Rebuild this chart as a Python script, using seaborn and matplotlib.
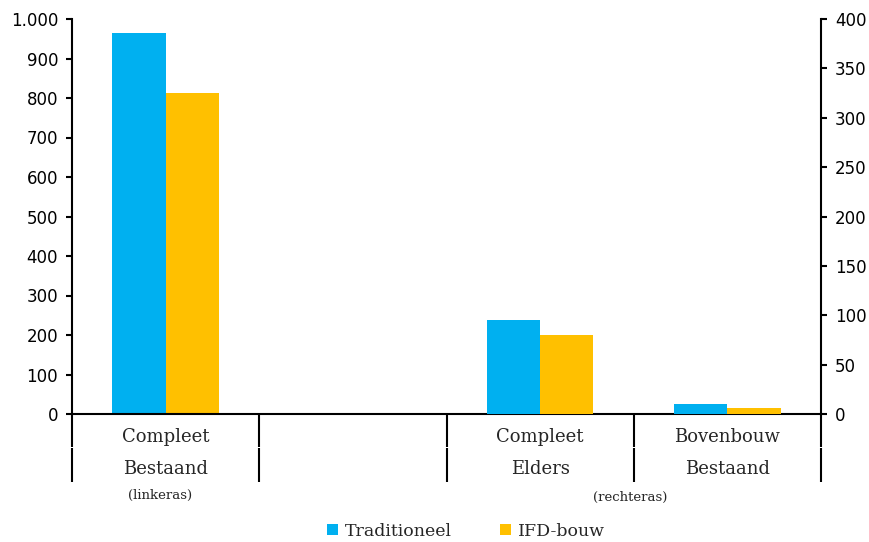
import matplotlib
matplotlib.use("Agg")
import matplotlib.pyplot as plt
import matplotlib.ticker as mticker
from matplotlib.patches import Patch
import seaborn as sns
import pandas as pd

sns.set_style("white")

categories = ["Compleet\nBestaand", "", "Compleet\nElders", "Bovenbouw\nBestaand"]
series = ["Traditioneel", "IFD-bouw"]
left_category = ["Compleet\nBestaand"]
left_trad = [965]
left_ifd = [813]
right_categories = ["Compleet\nElders", "Bovenbouw\nBestaand"]
right_trad_vals = [95, 10]
right_ifd_vals = [80, 6]
colors = ["#00B0F0", "#FFC000"]

df_left = pd.DataFrame({
    "cat": left_category * 2,
    "serie": [series[0]] * len(left_category) + [series[1]] * len(left_category),
    "value": left_trad + left_ifd,
})
df_right = pd.DataFrame({
    "cat": right_categories * 2,
    "serie": [series[0]] * len(right_categories) + [series[1]] * len(right_categories),
    "value": right_trad_vals + right_ifd_vals,
})

W, H = 869, 542
fig = plt.figure(figsize=(W / 100, H / 100), dpi=100)
ax = fig.add_axes([72 / W, (H - 414) / H, (821 - 72) / W, (414 - 19) / H])
ax2 = ax.twinx()

pal = dict(zip(series, colors))
sns.barplot(data=df_left, x="cat", y="value", hue="serie", order=categories,
            hue_order=series, palette=pal, width=0.57, ax=ax, legend=False,
            saturation=1, linewidth=0)
sns.barplot(data=df_right, x="cat", y="value", hue="serie", order=categories,
            hue_order=series, palette=pal, width=0.57, ax=ax2, legend=False,
            saturation=1, linewidth=0)

ax.set_xlim(-0.5, 3.5)
ax.set_ylim(0, 1000)
ax2.set_ylim(0, 400)
ax.set_yticks(range(0, 1001, 100))
ax2.set_yticks(range(0, 401, 50))
ax.yaxis.set_major_formatter(mticker.FuncFormatter(lambda v, p: f"{int(v):,}".replace(",", ".")))

for a in (ax, ax2):
    a.set_xlabel("")
    a.set_ylabel("")
    a.set_xticks([])
    a.spines["top"].set_visible(False)
    a.grid(False)
    for s in a.spines.values():
        s.set_linewidth(1.5)
        s.set_color("black")
    a.tick_params(axis="y", direction="out", length=4, width=1.5, labelsize=12,
                  colors="black", pad=6)
ax.spines["right"].set_visible(False)
ax2.spines["left"].set_visible(False)
ax2.spines["bottom"].set_visible(False)
ax2.yaxis.tick_right()

# category separators below the axis
trans = ax.get_xaxis_transform()
for xb in [-0.5, 0.5, 1.5, 2.5, 3.5]:
    for y0, y1 in [(0, -33 / 395), (-34 / 395, -68 / 395)]:
        ax.plot([xb, xb], [y0, y1], color="black", lw=1.5, transform=trans,
                clip_on=False, solid_capstyle="butt")

serif = "DejaVu Serif"
for i, c in enumerate(categories):
    if not c:
        continue
    top, bottom = c.split("\n")
    ax.text(i, -23 / 395, top, transform=trans, ha="center", va="center",
            fontsize=13, family=serif)
    ax.text(i, -55 / 395, bottom, transform=trans, ha="center", va="center",
            fontsize=13, family=serif)

fig.text(160 / W, 1 - 495 / H, "(linkeras)", ha="center", va="center",
         fontsize=9.5, family=serif)
fig.text(630 / W, 1 - 497 / H, "(rechteras)", ha="center", va="center",
         fontsize=9.5, family=serif)

handles = [Patch(facecolor=colors[0], edgecolor="none"),
           Patch(facecolor=colors[1], edgecolor="none")]
fig.legend(handles, series, loc="center", bbox_to_anchor=(466 / W, 1 - 531 / H),
           ncol=2, frameon=False, handlelength=0.6, handleheight=0.6,
           handletextpad=0.4, columnspacing=2.8, prop={"family": serif, "size": 12.5})

fig.savefig("out.png", dpi=100, facecolor="white")
